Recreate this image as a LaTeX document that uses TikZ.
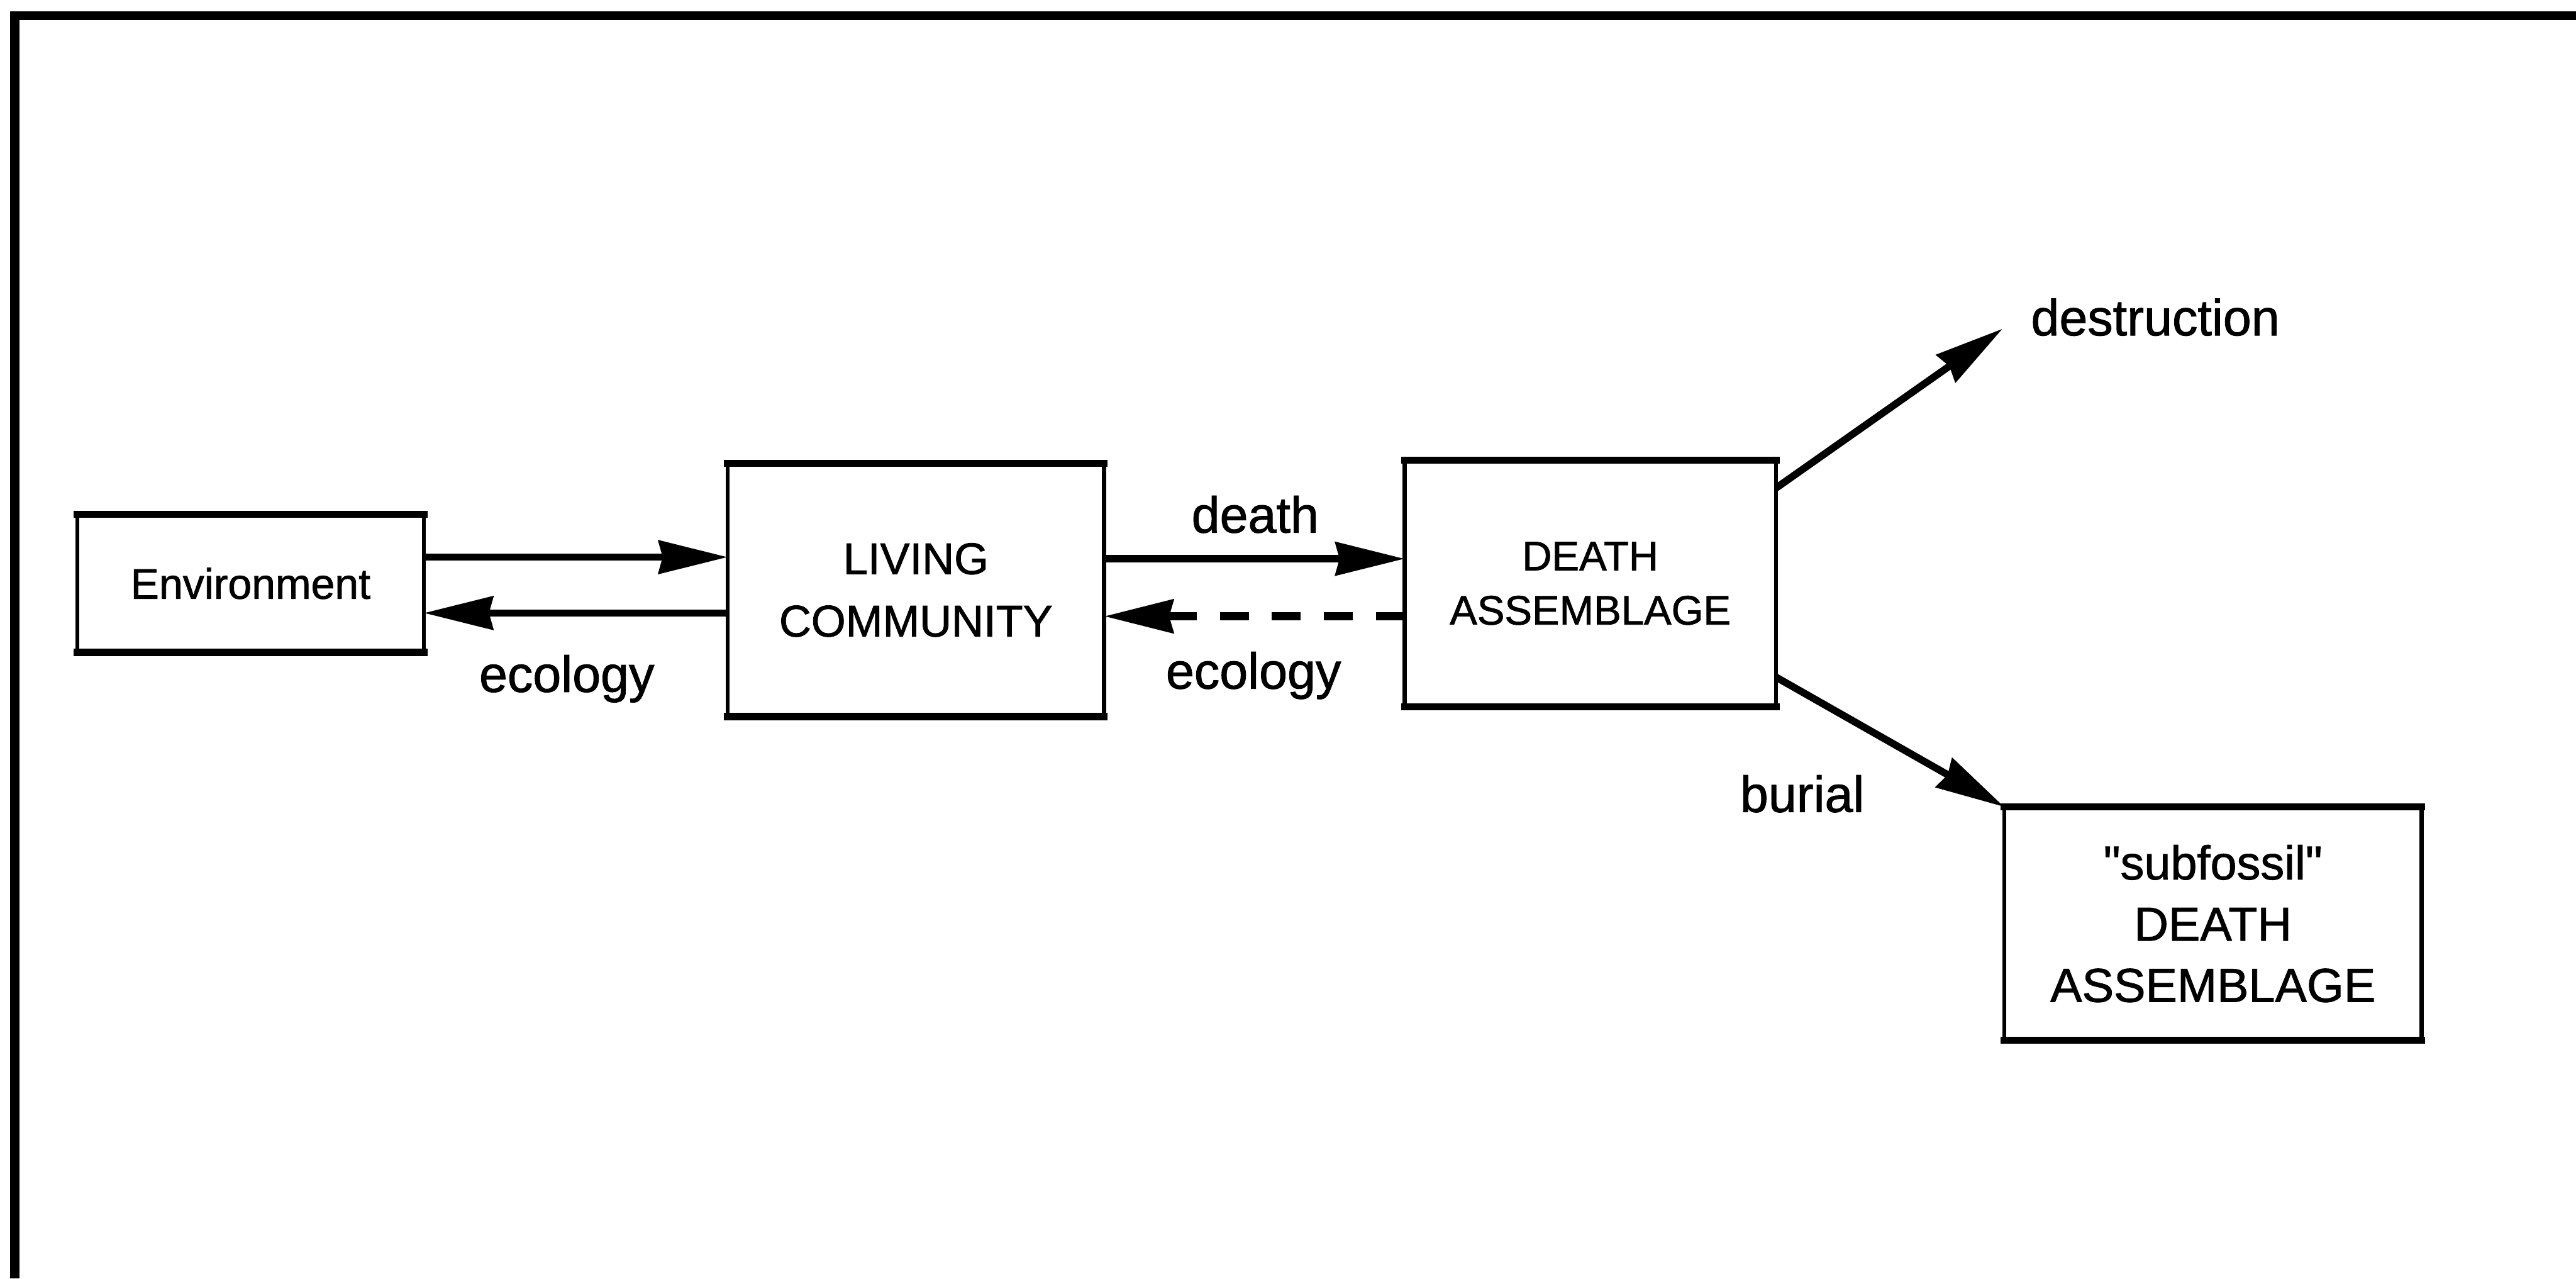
\documentclass[tikz,border=0pt]{standalone}
\usepackage{fontspec}
\setmainfont{Liberation Sans}[FakeBold=1.2]
\newfontfamily\straightq{Liberation Sans}[FakeBold=1.2,Ligatures=TeXOff]
\usetikzlibrary{arrows.meta,calc}
\begin{document}
\begin{tikzpicture}[x=0.25mm,y=-0.25mm,
  box/.style={draw, line width=0.6mm, inner sep=0pt, outer sep=0pt, align=center},
  edgeline/.style={line width=1.1mm, line cap=rect},
  arr/.style={line width=1.1mm, -{Stealth[length=10.5mm,width=5mm,inset=0.6mm]}},
  dashline/.style={line width=1.3mm, dash pattern=on 4.4mm off 3.5mm},
  lbl/.style={font=\fontsize{22}{26}\selectfont, inner sep=0pt}]
\useasboundingbox (0,0) rectangle (1568,778);
\fill[white] (0,0) rectangle (1568,778);

% outer frame: top and left edges only
\draw[line width=1.4mm, line join=miter] (9,778) -- (9,9.5) -- (1568,9.5);

% boxes
\node[box, minimum width=52.75mm, minimum height=21mm,
      font=\fontsize{18.5}{22}\selectfont] (env) at (152.5,355) {Environment};
\node[box, minimum width=57.25mm, minimum height=38.5mm,
      font=\fontsize{19.2}{27}\selectfont] (live) at (557.5,359) {LIVING\\COMMUNITY};
\node[box, minimum width=56.5mm, minimum height=37.5mm,
      font=\fontsize{17.8}{23.5}\selectfont] (dead) at (968,355) {DEATH\\ASSEMBLAGE};
\node[box, minimum width=63.5mm, minimum height=35.5mm,
      font=\fontsize{20.6}{26.5}\selectfont] (fossil) at (1347,562)
      {{\straightq"}subfossil{\straightq"}\\DEATH\\ASSEMBLAGE};

% heavier top and bottom edges of the boxes
\foreach \n in {env,live,dead,fossil}{
  \draw[edgeline] (\n.north west) -- (\n.north east)
                  (\n.south west) -- (\n.south east);
}

% labels
\node[lbl] (eco1) at (345,413) {ecology};
\node[lbl] (deathlbl) at (764,313) {death};
\node[lbl] (eco2) at (763,411) {ecology};
\node[lbl, anchor=west] (destr) at (1236,193) {destruction};
\node[lbl] (bur) at (1097,483) {burial};

% environment <-> living community
\coordinate (e1) at ($(env.east)+(0,-16)$);
\coordinate (e2) at ($(env.east)+(0,18)$);
\draw[arr] (e1) -- (e1 -| live.west);
\draw[arr] (e2 -| live.west) -- (e2);

% living community <-> death assemblage
\coordinate (d1) at ($(live.east)+(0,-19)$);
\coordinate (d2) at ($(live.east)+(0,16)$);
\draw[arr] (d1) -- (d1 -| dead.west);
\draw[arr, dashline] (d2 -| dead.west) -- (d2);

% destruction and burial
\coordinate (dstart) at ($(dead.east)+(0,-58)$);
\coordinate (dend) at (1219,200);
\draw[arr] (dstart) -- (dend);
\coordinate (bstart) at ($(dead.east)+(0,57)$);
\draw[arr] (bstart) -- (fossil.north west);
\end{tikzpicture}
\end{document}
